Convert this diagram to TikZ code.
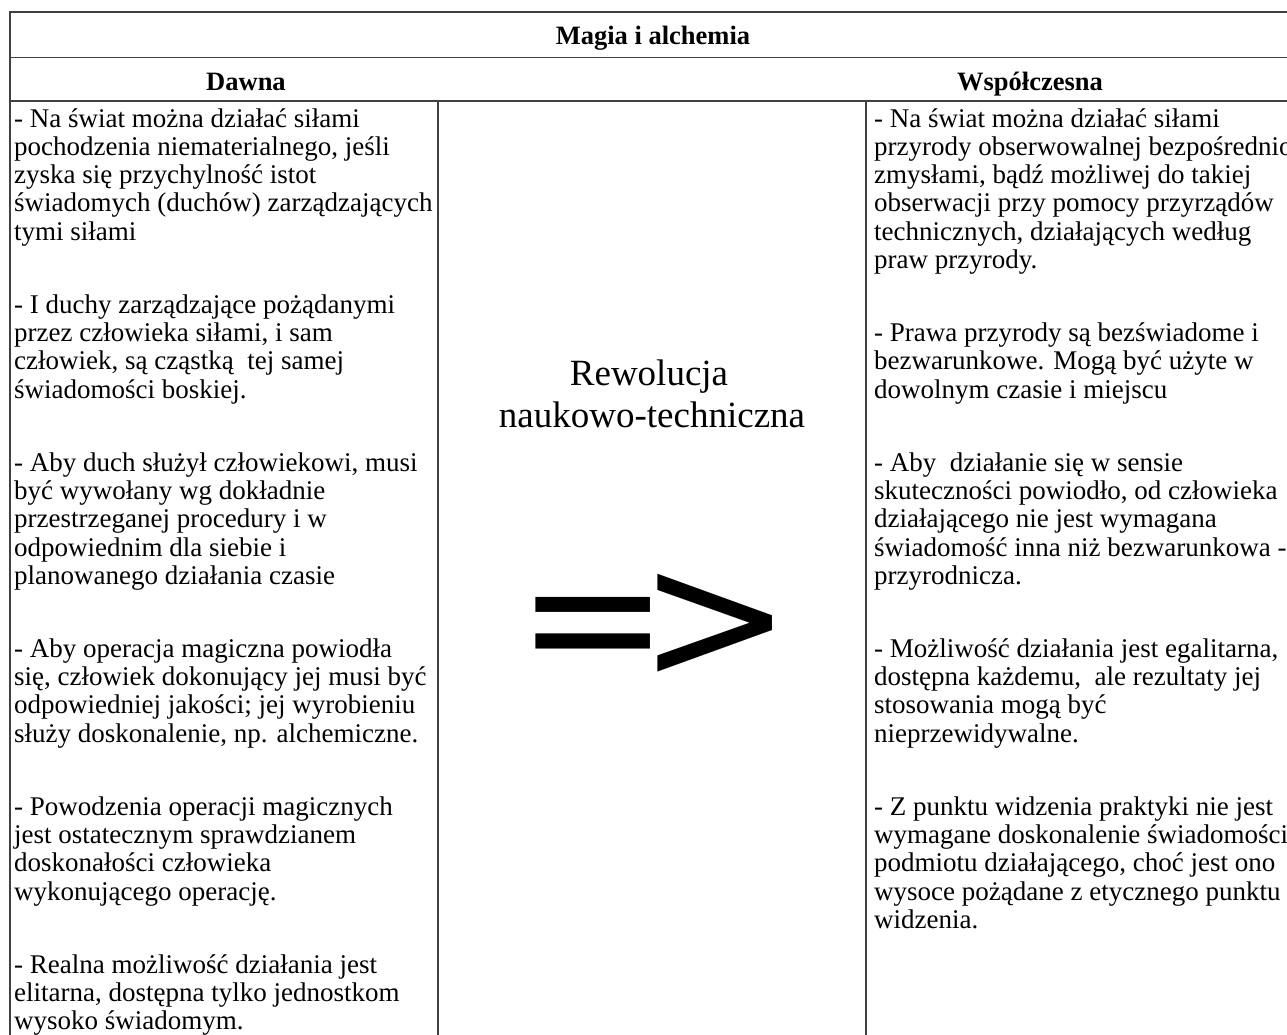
\documentclass[tikz,border=0pt]{standalone}
\usepackage{fontspec}
\setmainfont{Liberation Serif}
\newfontfamily\arrowfont{DejaVu Sans}
\begin{document}
\begin{tikzpicture}[x=1pt,y=-1pt,
  grid/.style={line width=1.4pt, draw=black!75},
  cell/.style={font=\fontsize{27}{30}\selectfont, anchor=base west, inner sep=0pt},
  head/.style={font=\fontsize{26.5}{30}\selectfont\bfseries, anchor=base, inner sep=0pt},
  big/.style={font=\fontsize{37}{42}\selectfont, anchor=base, inner sep=0pt},
  arrowtxt/.style={font=\arrowfont\fontsize{183}{190}\selectfont, anchor=base west, inner sep=0pt}]
\useasboundingbox[fill=white] (0,0) rectangle (1287,1034);
% table grid
\draw[grid] (1290,12) -- (10,12) -- (10,1040);
\draw[grid] (10,57.5) -- (1290,57.5);
\draw[grid] (10,101) -- (1290,101);
\draw[grid] (438,101) -- (438,1040);
\draw[grid] (866,101) -- (866,1040);
% headers
\node[head] (title) at (653,44) {Magia i alchemia};
\node[head] (dawna) at (246,90) {Dawna};
\node[head] (wsp) at (1030,90) {Współczesna};
% middle
\node[big] (rew1) at (649,385) {Rewolucja};
\node[big] (rew2) at (652,427) {naukowo-techniczna};
\node[arrowtxt] (arr) at (516,680) {=\kern-31pt>};
% left column
\foreach \t [count=\i from 0] in {{- Na świat można działać siłami},{pochodzenia niematerialnego, jeśli},{zyska się przychylność istot},{świadomych (duchów) zarządzających},{tymi siłami}}
  \node[cell] (LA\i) at (14,{127+\i*28.3}) {\t};
\foreach \t [count=\i from 0] in {{- I duchy zarządzające pożądanymi},{przez człowieka siłami, i sam},{człowiek, są cząstką\ \ tej samej},{świadomości boskiej.}}
  \node[cell] (LB\i) at (14,{313.2+\i*28.3}) {\t};
\foreach \t [count=\i from 0] in {{- Aby duch służył człowiekowi, musi},{być wywołany wg dokładnie},{przestrzeganej procedury i w},{odpowiednim dla siebie i},{planowanego działania czasie}}
  \node[cell] (LC\i) at (14,{471.1+\i*28.3}) {\t};
\foreach \t [count=\i from 0] in {{- Aby operacja magiczna powiodła},{się, człowiek dokonujący jej musi być},{odpowiedniej jakości; jej wyrobieniu},{służy doskonalenie, np. alchemiczne.}}
  \node[cell] (LD\i) at (14,{657.3+\i*28.3}) {\t};
\foreach \t [count=\i from 0] in {{- Powodzenia operacji magicznych},{jest ostatecznym sprawdzianem},{doskonałości człowieka},{wykonującego operację.}}
  \node[cell] (LE\i) at (14,{815.2+\i*28.3}) {\t};
\foreach \t [count=\i from 0] in {{- Realna możliwość działania jest},{elitarna, dostępna tylko jednostkom},{wysoko świadomym.}}
  \node[cell] (LF\i) at (14,{973.1+\i*28.3}) {\t};
% right column
\foreach \t [count=\i from 0] in {{- Na świat można działać siłami},{przyrody obserwowalnej bezpośrednio},{zmysłami, bądź możliwej do takiej},{obserwacji przy pomocy przyrządów},{technicznych, działających według},{praw przyrody.}}
  \node[cell] (RA\i) at (874,{127+\i*28.3}) {\t};
\foreach \t [count=\i from 0] in {{- Prawa przyrody są bezświadome i},{bezwarunkowe. Mogą być użyte w},{dowolnym czasie i miejscu}}
  \node[cell] (RB\i) at (874,{341.5+\i*28.3}) {\t};
\foreach \t [count=\i from 0] in {{- Aby\ \ działanie się w sensie},{skuteczności powiodło, od człowieka},{działającego nie jest wymagana},{świadomość inna niż bezwarunkowa -},{przyrodnicza.}}
  \node[cell] (RC\i) at (874,{471.1+\i*28.3}) {\t};
\foreach \t [count=\i from 0] in {{- Możliwość działania jest egalitarna,},{dostępna każdemu,\ \ ale rezultaty jej},{stosowania mogą być},{nieprzewidywalne.}}
  \node[cell] (RD\i) at (874,{657.3+\i*28.3}) {\t};
\foreach \t [count=\i from 0] in {{- Z punktu widzenia praktyki nie jest},{wymagane doskonalenie świadomości},{podmiotu działającego, choć jest ono},{wysoce pożądane z etycznego punktu},{widzenia.}}
  \node[cell] (RE\i) at (874,{815.2+\i*28.3}) {\t};
\end{tikzpicture}
\end{document}
